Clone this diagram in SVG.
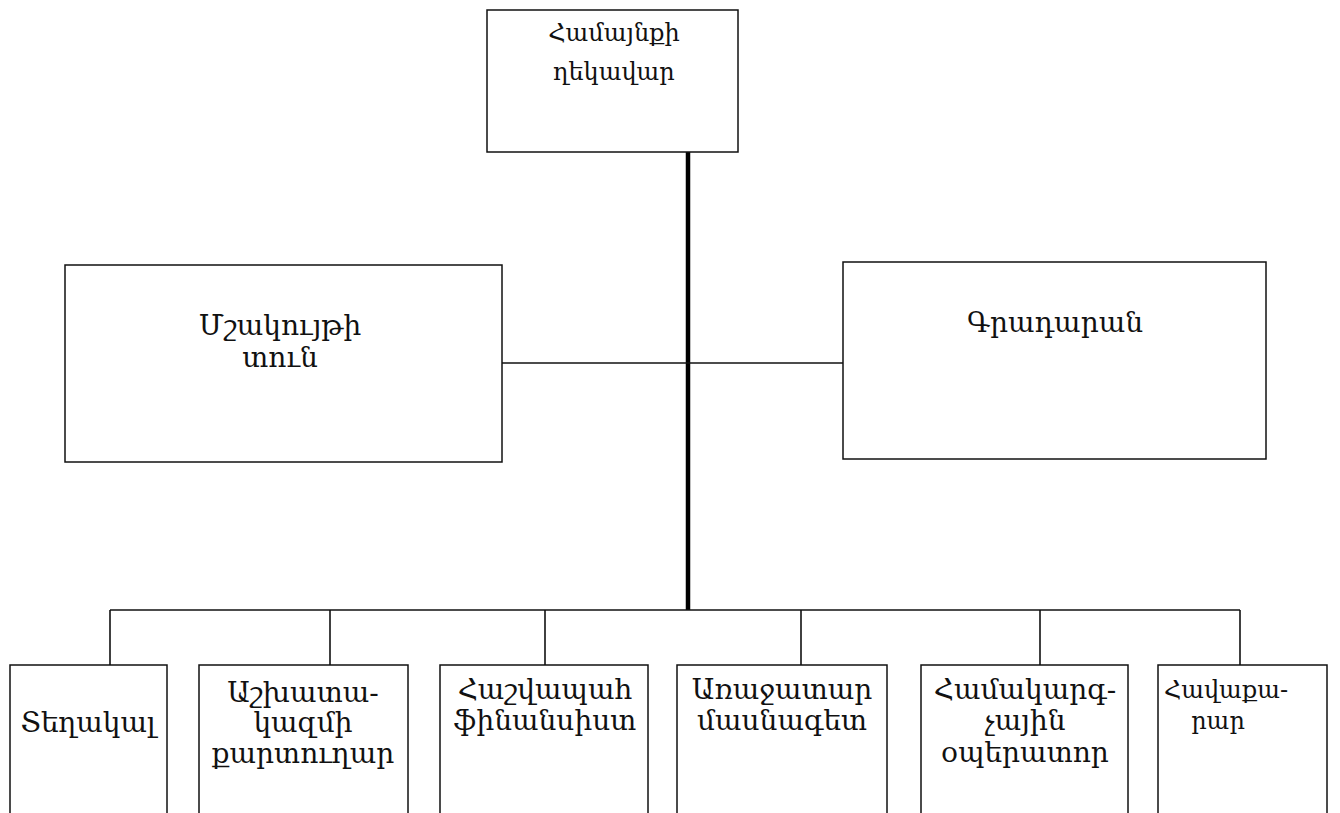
<svg xmlns="http://www.w3.org/2000/svg" width="1340" height="813" viewBox="0 0 1340 813">
<style>
.box{fill:#fff;stroke:#111;stroke-width:1.5}
.ln{stroke:#111;stroke-width:1.6;fill:none}
.thick{stroke:#000;stroke-width:4.5;fill:none}
text{font-family:"DejaVu Serif","Liberation Serif",serif;font-size:28px;fill:#111;text-anchor:middle}
.sm{font-size:24px}
</style>
<rect width="1340" height="813" fill="#fff"/>
<g id="connectors">
<line class="thick" x1="688" y1="152" x2="688" y2="610"/>
<line class="ln" x1="502" y1="363" x2="843" y2="363"/>
<line class="ln" x1="110" y1="610" x2="1240" y2="610"/>
<line class="ln" x1="110" y1="610" x2="110" y2="665"/>
<line class="ln" x1="330" y1="610" x2="330" y2="665"/>
<line class="ln" x1="545" y1="610" x2="545" y2="665"/>
<line class="ln" x1="801" y1="610" x2="801" y2="665"/>
<line class="ln" x1="1040" y1="610" x2="1040" y2="665"/>
<line class="ln" x1="1240" y1="610" x2="1240" y2="665"/>
</g>
<g id="head">
<rect class="box" x="487" y="10" width="251" height="142"/>
<text class="sm" x="614" y="41">Համայնքի</text>
<text class="sm" x="614" y="80">ղեկավար</text>
</g>
<g id="culture">
<rect class="box" x="65" y="265" width="437" height="197"/>
<text x="280" y="335">Մշակույթի</text>
<text x="280" y="367">տուն</text>
</g>
<g id="library">
<rect class="box" x="843" y="262" width="423" height="197"/>
<text x="1055" y="332">Գրադարան</text>
</g>
<g id="deputy">
<rect class="box" x="10" y="665" width="157" height="150"/>
<text x="88" y="732">Տեղակալ</text>
</g>
<g id="secretary">
<rect class="box" x="199" y="665" width="209" height="150"/>
<text x="303" y="702">Աշխատա-</text>
<text x="303" y="732">կազմի</text>
<text x="303" y="763">քարտուղար</text>
</g>
<g id="accountant">
<rect class="box" x="440" y="665" width="208" height="150"/>
<text x="545" y="699">Հաշվապահ</text>
<text x="545" y="730">ֆինանսիստ</text>
</g>
<g id="specialist">
<rect class="box" x="677" y="665" width="210" height="150"/>
<text x="782" y="699">Առաջատար</text>
<text x="782" y="730">մասնագետ</text>
</g>
<g id="operator">
<rect class="box" x="921" y="665" width="207" height="150"/>
<text x="1025" y="699">Համակարգ-</text>
<text x="1025" y="730">չային</text>
<text x="1025" y="762">օպերատոր</text>
</g>
<g id="collector">
<rect class="box" x="1158" y="665" width="169" height="150"/>
<text class="sm" x="1226" y="698">Հավաքա-</text>
<text class="sm" x="1218" y="729">րար</text>
</g>
</svg>
